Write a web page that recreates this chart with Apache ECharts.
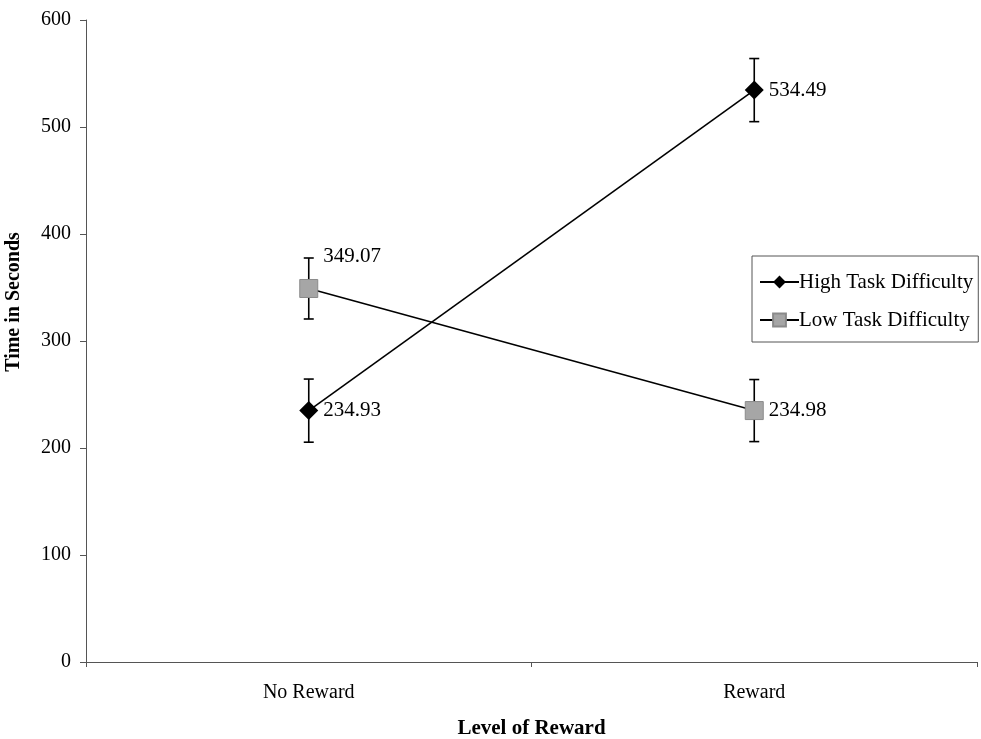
<!DOCTYPE html>
<html>
<head>
<meta charset="utf-8">
<script src="https://cdn.jsdelivr.net/npm/echarts@6/dist/echarts.min.js"></script>
<style>
  html, body { margin: 0; padding: 0; background: #fff; }
  #chart { width: 981px; height: 739px; }
</style>
</head>
<body>
<div id="chart"></div>
<script>
// Mean completion time by reward level and task difficulty
const categories = ['No Reward', 'Reward'];
const highTask = [234.93, 534.49];
const lowTask = [349.07, 234.98];
// Half-width of the error bars (seconds)
const highErr = [29.5, 29.5];
const lowErr = [28.5, 29.0];
const yTicks = { min: 0, max: 600, interval: 100 };

const FONT = 'Liberation Serif';

function errorData(values, errs) {
  return values.map((v, i) => [i, v - errs[i], v + errs[i]]);
}

function renderErrorBar(params, api) {
  const x = api.value(0);
  const lo = api.coord([x, api.value(1)]);
  const hi = api.coord([x, api.value(2)]);
  const cap = 5;
  const style = { stroke: '#000', lineWidth: 1.6 };
  return {
    type: 'group',
    children: [
      { type: 'line', shape: { x1: hi[0], y1: hi[1], x2: lo[0], y2: lo[1] }, style },
      { type: 'line', shape: { x1: hi[0] - cap, y1: hi[1], x2: hi[0] + cap, y2: hi[1] }, style },
      { type: 'line', shape: { x1: lo[0] - cap, y1: lo[1], x2: lo[0] + cap, y2: lo[1] }, style }
    ]
  };
}

const labelStyle = { show: true, color: '#000', fontFamily: FONT, fontSize: 21, position: 'right', distance: 5 };

const chart = echarts.init(document.getElementById('chart'), null, { renderer: 'canvas' });
chart.setOption({
  backgroundColor: '#fff',
  animation: false,
  grid: { left: 86, right: 4, top: 20, bottom: 77, containLabel: false, outerBoundsMode: 'none' },
  legend: {
    orient: 'vertical',
    left: 752,
    top: 256,
    itemWidth: 39,
    itemHeight: 16,
    itemGap: 16,
    padding: [15, 5, 11, 7],
    borderColor: '#555',
    borderWidth: 1,
    textStyle: { color: '#000', fontFamily: FONT, fontSize: 21, lineHeight: 22, padding: [0, 0, 0, -5] },
    data: ['High Task Difficulty', 'Low Task Difficulty']
  },
  graphic: [{
    type: 'text',
    x: 14,
    y: 302,
    rotation: Math.PI / 2,
    style: {
      text: 'Time in Seconds',
      fill: '#000',
      font: 'bold 20px "Liberation Serif"',
      textAlign: 'center',
      textVerticalAlign: 'middle'
    }
  }],
  xAxis: {
    type: 'category',
    data: categories,
    boundaryGap: true,
    axisLine: { lineStyle: { color: '#555', width: 1 } },
    axisTick: { show: true, alignWithLabel: false, length: 5, lineStyle: { color: '#555' } },
    axisLabel: { color: '#000', fontFamily: FONT, fontSize: 20, margin: 21 },
    name: 'Level of Reward',
    nameLocation: 'middle',
    nameGap: 56,
    nameTextStyle: { color: '#000', fontFamily: FONT, fontSize: 21, fontWeight: 'bold' }
  },
  yAxis: {
    type: 'value',
    min: yTicks.min,
    max: yTicks.max,
    interval: yTicks.interval,
    splitLine: { show: false },
    axisLine: { show: true, lineStyle: { color: '#555', width: 1 } },
    axisTick: { show: true, length: 6, lineStyle: { color: '#555' } },
    axisLabel: { color: '#000', fontFamily: FONT, fontSize: 20, margin: 15 }
  },
  series: [
    {
      name: 'High Task Difficulty',
      type: 'line',
      data: highTask,
      symbol: 'diamond',
      symbolSize: 19,
      itemStyle: { color: '#000' },
      lineStyle: { color: '#000', width: 1.6 },
      label: labelStyle,
      z: 3
    },
    {
      name: 'Low Task Difficulty',
      type: 'line',
      data: lowTask.map((v, i) => i === 0
        ? { value: v, label: { position: 'right', offset: [0, -32] } }
        : v),
      symbol: 'rect',
      symbolSize: 18,
      itemStyle: { color: '#a6a6a6', borderColor: '#8a8a8a', borderWidth: 1 },
      lineStyle: { color: '#000', width: 1.6 },
      label: labelStyle,
      z: 3
    },
    {
      type: 'custom',
      renderItem: renderErrorBar,
      data: errorData(highTask, highErr),
      encode: { x: 0, y: [1, 2] },
      z: 2,
      silent: true
    },
    {
      type: 'custom',
      renderItem: renderErrorBar,
      data: errorData(lowTask, lowErr),
      encode: { x: 0, y: [1, 2] },
      z: 2,
      silent: true
    }
  ]
});
</script>
</body>
</html>
